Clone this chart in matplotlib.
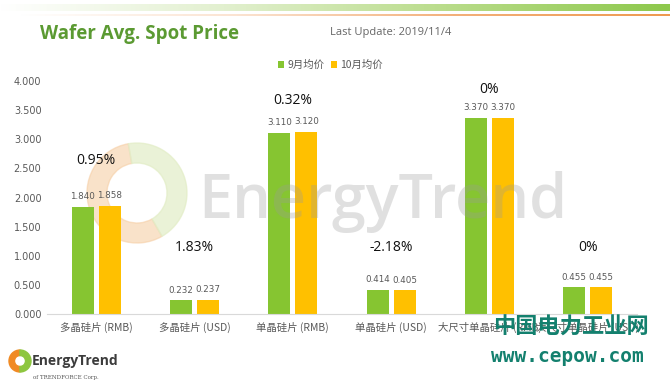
import matplotlib
matplotlib.use("Agg")
import matplotlib.pyplot as plt
import numpy as np
from matplotlib.colors import LinearSegmentedColormap
from matplotlib.patches import Wedge

categories = ["多晶硅片 (RMB)", "多晶硅片 (USD)", "单晶硅片 (RMB)",
              "单晶硅片 (USD)", "大尺寸单晶硅片 (RMB)", "大尺寸单晶硅片 (USD)"]
sep_avg = [1.840, 0.232, 3.110, 0.414, 3.370, 0.455]
oct_avg = [1.858, 0.237, 3.120, 0.405, 3.370, 0.455]
change = ["0.95%", "1.83%", "0.32%", "-2.18%", "0%", "0%"]
change_y = [2.64, 1.15, 3.67, 1.15, 3.86, 1.15]
yticks = [0, 0.5, 1, 1.5, 2, 2.5, 3, 3.5, 4]

GREEN = "#86c531"
ORANGE = "#ffc000"
cjk = ["Noto Sans CJK SC", "DejaVu Sans"]

fig = plt.figure(figsize=(6.7, 3.84), dpi=100)

# top decorative gradient stripes
top = fig.add_axes([0, 1 - 18 / 384, 1, 18 / 384])
top.set_xlim(0, 1)
top.set_ylim(0, 18)
top.axis("off")
grad = np.linspace(0, 1, 256).reshape(1, -1)
gcm = LinearSegmentedColormap.from_list("g", ["#ffffff", "#e2f0cf", "#b9dc8a", "#8dc84c"])
ocm = LinearSegmentedColormap.from_list("o", ["#ffffff", "#fbe3d1", "#f3b07a", "#ee9a50"])
top.imshow(grad, extent=[0, 1, 7, 14], aspect="auto", cmap=gcm)
top.imshow(grad, extent=[0.03, 1, 1.5, 3], aspect="auto", cmap=ocm)

# faint logo ring behind the chart
fig.add_artist(Wedge((1.37, 1.91), 0.5, 100, 300, width=0.2, zorder=-2,
                     transform=fig.dpi_scale_trans, color="#f6cfa6", alpha=0.6))
fig.add_artist(Wedge((1.37, 1.91), 0.5, -60, 100, width=0.2, zorder=-2,
                     transform=fig.dpi_scale_trans, color="#e2edc6", alpha=0.7))

ax = fig.add_axes([47 / 670, 1 - 314 / 384, 590 / 670, 233 / 384])
ax.patch.set_alpha(0)
x = np.arange(len(categories))
w = 0.225
off = 0.1375
b1 = ax.bar(x - off, sep_avg, w, color=GREEN, label="9月均价", zorder=2)
b2 = ax.bar(x + off, oct_avg, w, color=ORANGE, label="10月均价", zorder=2)

for bars, vals in ((b1, sep_avg), (b2, oct_avg)):
    for r, v in zip(bars, vals):
        ax.text(r.get_x() + r.get_width() / 2, v + 0.1, f"{v:.3f}",
                ha="center", va="bottom", fontsize=6.3, color="#595959",
                family="DejaVu Sans")

for i, (t, yy) in enumerate(zip(change, change_y)):
    ax.text(i, yy, t, ha="center", va="center", fontsize=10, color="#111111",
            family="Open Sans")

ax.set_xlim(-0.5, len(categories) - 0.5)
ax.set_ylim(0, 4)
ax.set_yticks(yticks)
ax.set_yticklabels([f"{v:.3f}" for v in yticks], fontsize=7, color="#595959",
                   family="DejaVu Sans")
ax.set_xticks(x)
ax.set_xticklabels(categories, fontsize=7.5, color="#595959", family=cjk)
ax.tick_params(length=0, pad=6)
ax.tick_params(axis="y", pad=4)
for s in ("top", "right", "left"):
    ax.spines[s].set_visible(False)
ax.spines["bottom"].set_color("#d9d9d9")

# background watermark
ax.text(0.57, 0.48, "EnergyTrend", transform=ax.transAxes, ha="center",
        va="center", fontsize=44, fontweight="semibold", color="#9a9a9a",
        alpha=0.3, family="Open Sans", zorder=3)

ax.legend(loc="upper center", bbox_to_anchor=(0.48, 1.13), ncol=2, frameon=False,
          prop={"family": cjk, "size": 7.5}, handlelength=0.6, handleheight=0.6,
          handletextpad=0.3, columnspacing=0.6, labelcolor="#595959")

fig.text(40 / 670, 1 - 34 / 384, "Wafer Avg. Spot Price", fontsize=13.5,
         fontweight="bold", color="#5b9a32", family="Open Sans", va="center")
fig.text(330 / 670, 1 - 33 / 384, "Last Update: 2019/11/4", fontsize=8,
         color="#666666", family="Open Sans", va="center")

# bottom-left logo
fig.add_artist(Wedge((0.2, 0.23), 0.11, 90, 270, width=0.055,
                     color="#f08a24", transform=fig.dpi_scale_trans))
fig.add_artist(Wedge((0.2, 0.23), 0.11, -90, 90, width=0.055,
                     color="#8dc63f", transform=fig.dpi_scale_trans))
fig.text(32 / 670, 1 - 361 / 384, "EnergyTrend", fontsize=10, fontweight="bold",
         color="#3c3c3c", family="Open Sans", va="center")
fig.text(33 / 670, 1 - 377 / 384, "of TRENDFORCE Corp.", fontsize=4,
         color="#555555", family="DejaVu Serif", va="center")

# site watermark
fig.text(571 / 670, 1 - 327 / 384, "中国电力工业网", fontsize=16, fontweight="bold",
         color="#13806e", family=cjk, ha="center", va="center")
fig.text(567 / 670, 1 - 357 / 384, "www.cepow.com", fontsize=14, fontweight="bold",
         color="#13806e", family="DejaVu Sans Mono", ha="center", va="center")

fig.savefig("out.png", dpi=100)
